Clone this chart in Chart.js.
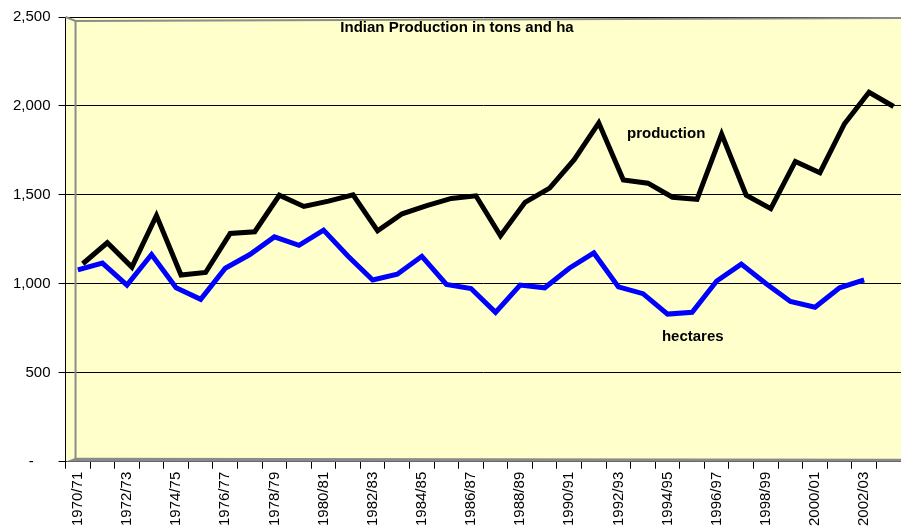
<!DOCTYPE html>
<html>
<head>
<meta charset="utf-8">
<script src="https://cdn.jsdelivr.net/npm/chart.js@4/dist/chart.umd.min.js"></script>
<style>
  html, body { margin: 0; padding: 0; background: #ffffff; }
  #wrap { width: 901px; height: 529px; position: relative; }
</style>
</head>
<body>
<div id="wrap"><canvas id="c" width="901" height="529"></canvas></div>
<script>
const categories = ['1970/71','1971/72','1972/73','1973/74','1974/75','1975/76','1976/77','1977/78','1978/79','1979/80',
  '1980/81','1981/82','1982/83','1983/84','1984/85','1985/86','1986/87','1987/88','1988/89','1989/90',
  '1990/91','1991/92','1992/93','1993/94','1994/95','1995/96','1996/97','1997/98','1998/99','1999/00',
  '2000/01','2001/02','2002/03','2003/04'];
const production = [1113,1231,1094,1384,1050,1064,1283,1293,1498,1435,
  1465,1500,1298,1394,1440,1480,1495,1270,1458,1538,
  1698,1905,1584,1566,1487,1475,1842,1498,1423,1688,
  1625,1900,2077,1997];
const hectares = [1079,1117,993,1165,978,913,1088,1165,1264,1217,
  1302,1155,1022,1054,1155,997,974,840,993,978,
  1088,1174,983,945,830,840,1016,1111,1002,901,
  869,978,1022,null];
const yTicks = [0, 500, 1000, 1500, 2000, 2500];
const chartTitle = 'Indian Production in tons and ha';
const seriesNames = ['production', 'hectares'];

const FONT = '"Liberation Sans", Arial, sans-serif';
const DEPTH = 0.2; // 3D depth shift of the front series, in categories

const decor = {
  id: 'decor',
  beforeDraw(chart) {
    const { ctx, chartArea: a } = chart;
    ctx.save();
    ctx.fillStyle = '#FFFFCC';
    ctx.fillRect(a.left, a.top, a.right - a.left, a.bottom - a.top);
    ctx.restore();
  },
  afterDatasetsDraw(chart) {
    const { ctx, chartArea: a, scales } = chart;
    ctx.save();
    ctx.strokeStyle = '#8c8c8c';
    ctx.lineWidth = 2;
    ctx.beginPath();
    ctx.moveTo(a.left, a.top);
    ctx.lineTo(a.left + 10, a.top + 4);
    ctx.lineTo(a.right + 2, a.top + 1);
    ctx.stroke();
    ctx.beginPath();
    ctx.moveTo(a.left + 10, a.top + 4);
    ctx.lineTo(a.left + 10, a.bottom - 3);
    ctx.stroke();
    ctx.fillStyle = '#8a8a8a';
    ctx.beginPath();
    ctx.moveTo(a.left, a.bottom);
    ctx.lineTo(a.left + 10, a.bottom - 4);
    ctx.lineTo(a.right, a.bottom - 3);
    ctx.lineTo(a.right, a.bottom);
    ctx.closePath();
    ctx.fill();
    ctx.fillStyle = '#000000';
    ctx.font = 'bold 15px ' + FONT;
    ctx.textAlign = 'center';
    ctx.textBaseline = 'middle';
    ctx.fillText(chartTitle, 457, a.top + 11);
    const x = scales.x, y = scales.y;
    ctx.textAlign = 'left';
    ctx.fillText(seriesNames[0], x.getPixelForValue(22.35), y.getPixelForValue(1845));
    ctx.fillText(seriesNames[1], x.getPixelForValue(23.77), y.getPixelForValue(700));
    ctx.restore();
  }
};

new Chart(document.getElementById('c'), {
  type: 'line',
  data: {
    labels: categories,
    datasets: [
      { label: seriesNames[1], data: hectares, borderColor: '#0000FF', borderWidth: 5,
        pointRadius: 0, tension: 0, fill: false, borderJoinStyle: 'miter', spanGaps: false,
        xAxisID: 'x' },
      { label: seriesNames[0], data: production.map((v, i) => ({ x: i, y: v })),
        borderColor: '#000000', borderWidth: 5,
        pointRadius: 0, tension: 0, fill: false, borderJoinStyle: 'miter', xAxisID: 'x2' }
    ]
  },
  options: {
    responsive: false,
    animation: false,
    devicePixelRatio: 1,
    layout: { padding: { left: 5, right: 0, top: 10, bottom: 0 } },
    plugins: { legend: { display: false }, title: { display: false }, tooltip: { enabled: false } },
    scales: {
      x: {
        type: 'category',
        offset: true,
        afterFit: function(s) { s.paddingLeft = 0; s.paddingRight = 0; },
        grid: { offset: true, drawOnChartArea: false, color: '#000000', tickLength: 7, tickColor: '#000000' },
        border: { color: '#000000', width: 1 },
        ticks: {
          autoSkip: false, minRotation: 90, maxRotation: 90, padding: 3,
          color: '#000000', font: { family: FONT, size: 15 },
          callback: function(v, i) { return i % 2 === 0 ? categories[i] : ''; }
        }
      },
      x2: {
        type: 'linear',
        display: false,
        min: -0.5 - DEPTH,
        max: categories.length - 0.5 - DEPTH
      },
      y: {
        min: 0, max: 2500,
        afterBuildTicks: function(s) { s.ticks = yTicks.map(v => ({ value: v })); },
        grid: { color: '#000000', lineWidth: 1, tickLength: 7, tickColor: '#000000' },
        border: { color: '#000000', width: 1 },
        ticks: {
          padding: 8, color: '#000000', font: { family: FONT, size: 15 },
          callback: function(v) { return v === 0 ? '-    ' : v.toLocaleString('en-US'); }
        }
      }
    }
  },
  plugins: [decor]
});
</script>
</body>
</html>
